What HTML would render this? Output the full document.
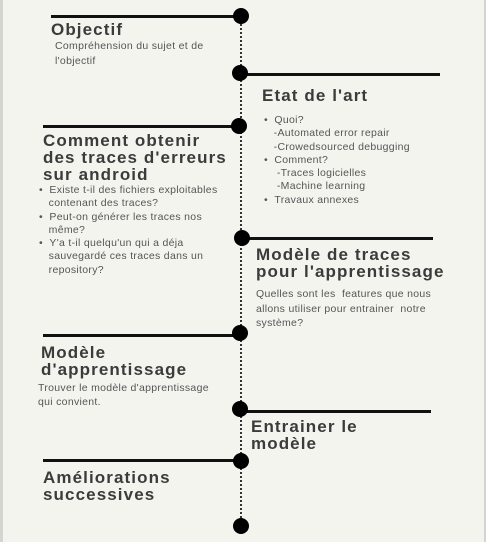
<!DOCTYPE html>
<html><head><meta charset="utf-8">
<style>
html,body{margin:0;padding:0;}
body{width:486px;height:542px;background:#f4f4ef;position:relative;overflow:hidden;font-family:"Liberation Sans",sans-serif;}
.edge{position:absolute;top:0;height:542px;background:#d4d4d0;}
.h{position:absolute;height:3px;background:#111;}
.dot{position:absolute;width:16px;height:16px;border-radius:50%;background:#000;}
.t{position:absolute;font-weight:bold;font-size:17px;line-height:17px;color:#3b3b3b;letter-spacing:1.1px;white-space:nowrap;}
.b{position:absolute;font-size:10.5px;line-height:13.3px;color:#555;letter-spacing:0.3px;white-space:nowrap;}
.vl{position:absolute;left:240px;top:16px;height:510px;border-left:2.5px dotted #333;}
</style></head><body>
<div class="edge" style="left:0;width:3px"></div>
<div class="edge" style="left:484px;width:2px"></div>
<div class="vl"></div>

<div class="h" style="left:51px;top:15px;width:190px"></div>
<div class="h" style="left:240px;top:73px;width:200px"></div>
<div class="h" style="left:43px;top:125px;width:197px"></div>
<div class="h" style="left:242px;top:237px;width:191px"></div>
<div class="h" style="left:43px;top:334px;width:197px"></div>
<div class="h" style="left:240px;top:410px;width:191px"></div>
<div class="h" style="left:43px;top:459px;width:198px"></div>

<div class="dot" style="left:233px;top:8px"></div>
<div class="dot" style="left:232px;top:65px"></div>
<div class="dot" style="left:231px;top:118px"></div>
<div class="dot" style="left:234px;top:230px"></div>
<div class="dot" style="left:232px;top:325px"></div>
<div class="dot" style="left:232px;top:401px"></div>
<div class="dot" style="left:233px;top:453px"></div>
<div class="dot" style="left:233px;top:518px"></div>

<div class="t" style="left:51px;top:21px">Objectif</div>
<div class="b" style="left:55px;top:39px;line-height:15px">Compréhension du sujet et de<br>l'objectif</div>

<div class="t" style="left:262px;top:87px">Etat de l'art</div>
<div class="b" style="left:264px;top:114px">
• &nbsp;Quoi?<br>&nbsp;&nbsp;&nbsp;-Automated error repair<br>&nbsp;&nbsp;&nbsp;-Crowedsourced debugging<br>• &nbsp;Comment?<br>&nbsp;&nbsp;&nbsp;&nbsp;-Traces logicielles<br>&nbsp;&nbsp;&nbsp;&nbsp;-Machine learning<br>• &nbsp;Travaux annexes</div>

<div class="t" style="left:43px;top:132px">Comment obtenir<br>des traces d'erreurs<br>sur android</div>
<div class="b" style="left:39px;top:184px">
• &nbsp;Existe t-il des fichiers exploitables<br>&nbsp;&nbsp;&nbsp;contenant des traces?<br>• &nbsp;Peut-on générer les traces nos<br>&nbsp;&nbsp;&nbsp;même?<br>• &nbsp;Y'a t-il quelqu'un qui a déja<br>&nbsp;&nbsp;&nbsp;sauvegardé ces traces dans un<br>&nbsp;&nbsp;&nbsp;repository?</div>

<div class="t" style="left:256px;top:246px">Modèle de traces<br>pour l'apprentissage</div>
<div class="b" style="left:256px;top:287px;line-height:14.5px">Quelles sont les&nbsp; features que nous<br>allons utiliser pour entrainer&nbsp; notre<br>système?</div>

<div class="t" style="left:41px;top:344px">Modèle<br>d'apprentissage</div>
<div class="b" style="left:38px;top:381px;line-height:14px">Trouver le modèle d'apprentissage<br>qui convient.</div>

<div class="t" style="left:251px;top:418px">Entrainer le<br>modèle</div>

<div class="t" style="left:43px;top:469px">Améliorations<br>successives</div>
</body></html>
